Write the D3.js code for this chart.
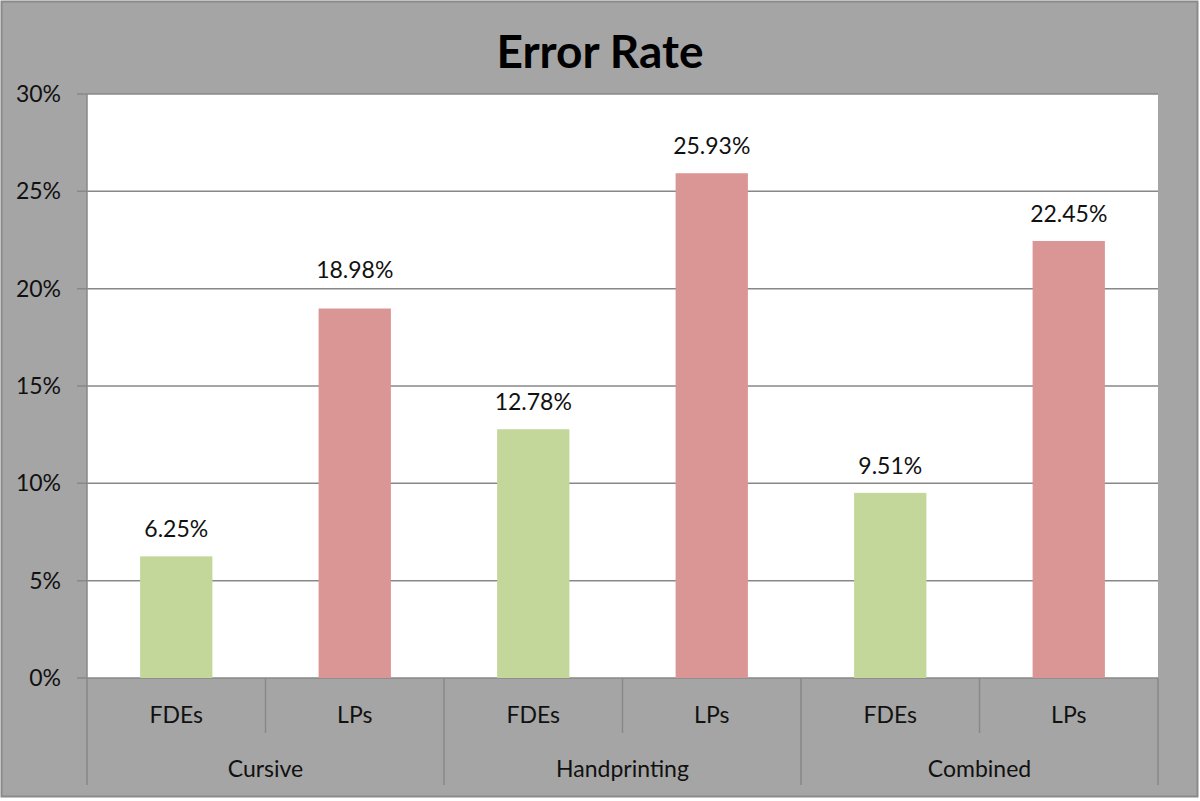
<!DOCTYPE html>
<html><head><meta charset="utf-8">
<script src="https://cdn.jsdelivr.net/npm/d3@7"></script>
<style>body{margin:0;background:#fff}svg{display:block}</style>
</head><body>
<script>
const groups = ["Cursive","Handprinting","Combined"];
const series = ["FDEs","LPs"];
const fdeValues = [6.25, 12.78, 9.51];
const lpValues = [18.98, 25.93, 22.45];
const yTicks = [0,5,10,15,20,25,30];
const title = "Error Rate";

const W=1200,H=801;
const m={l:87,r:1158,t:94,b:678};
const labelNudge={"Cursive|1":12};
const svg=d3.select("body").append("svg").attr("width",W).attr("height",H);
svg.append("rect").attr("x",0).attr("y",0).attr("width",W).attr("height",H).attr("fill","#fff");
svg.append("rect").attr("x",1.5).attr("y",1.5).attr("width",1196).attr("height",795).attr("fill","#a5a5a5").attr("stroke","#8a8a8a").attr("stroke-width",2);
svg.append("rect").attr("x",m.l).attr("y",m.t).attr("width",m.r-m.l).attr("height",m.b-m.t).attr("fill","#fff");

const items=[];
groups.forEach((g,i)=>{items.push({g,s:series[0],v:fdeValues[i],k:g+"|0"});items.push({g,s:series[1],v:lpValues[i],k:g+"|1"});});
const x=d3.scaleBand().domain(items.map(d=>d.k)).range([m.l,m.r]).padding(0);
const y=d3.scaleLinear().domain([0,30]).range([m.b,m.t]);
const color=d3.scaleOrdinal().domain(series).range(["#c4d79b","#da9694"]);
const font="Lato, 'Open Sans', sans-serif";
const fs=23;

// gridlines
svg.append("g").selectAll("line").data(yTicks).join("line")
 .attr("x1",m.l-10).attr("x2",m.r).attr("y1",d=>y(d)).attr("y2",d=>y(d))
 .attr("stroke","#888").attr("stroke-width",1.5);
// y labels
svg.append("g").selectAll("text").data(yTicks).join("text")
 .attr("x",61).attr("y",d=>y(d)+8).attr("text-anchor","end")
 .attr("font-family",font).attr("font-size",fs).attr("fill","#111").text(d=>d+"%");

// bars
const bw=x.bandwidth()*0.405;
svg.append("g").selectAll("rect").data(items).join("rect")
 .attr("x",d=>x(d.k)+x.bandwidth()/2-bw/2).attr("width",bw)
 .attr("y",d=>y(d.v)).attr("height",d=>y(0)-y(d.v)).attr("fill",d=>color(d.s));
svg.append("g").selectAll("text").data(items).join("text")
 .attr("x",d=>x(d.k)+x.bandwidth()/2).attr("y",d=>y(d.v)-19-(labelNudge[d.k]||0))
 .attr("text-anchor","middle").attr("font-family",font).attr("font-size",fs).attr("fill","#111")
 .text(d=>d.v.toFixed(2)+"%");

// axes lines
const ax=svg.append("g").attr("stroke","#888").attr("stroke-width",1.5);
ax.append("line").attr("x1",m.l).attr("x2",m.l).attr("y1",m.t).attr("y2",785);
items.forEach((d,i)=>{
  if(i%2===1){ax.append("line").attr("x1",x(d.k)).attr("x2",x(d.k)).attr("y1",m.b).attr("y2",733);}
  else if(i>0){ax.append("line").attr("x1",x(d.k)).attr("x2",x(d.k)).attr("y1",m.b).attr("y2",785);}
});
ax.append("line").attr("x1",m.r).attr("x2",m.r).attr("y1",m.b).attr("y2",785);

// category labels
svg.append("g").selectAll("text").data(items).join("text")
 .attr("x",d=>x(d.k)+x.bandwidth()/2).attr("y",723).attr("text-anchor","middle")
 .attr("font-family",font).attr("font-size",fs).attr("fill","#111").text(d=>d.s);
svg.append("g").selectAll("text").data(groups).join("text")
 .attr("x",(g)=>x(g+"|0")+x.bandwidth()).attr("y",777).attr("text-anchor","middle")
 .attr("font-family",font).attr("font-size",fs).attr("fill","#111").text(d=>d);

svg.append("text").attr("x",600).attr("y",68).attr("text-anchor","middle")
 .attr("font-family",font).attr("font-weight","bold").attr("font-size",46).attr("fill","#000").text(title);
</script>
</body></html>
